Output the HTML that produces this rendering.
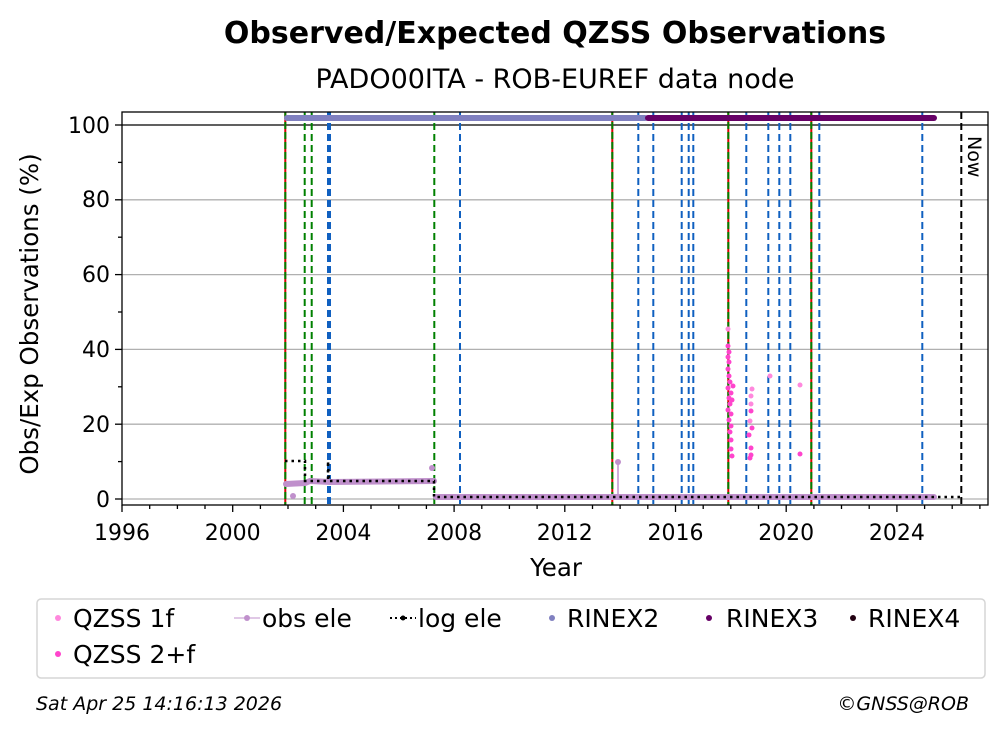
<!DOCTYPE html>
<html><head><meta charset="utf-8"><style>
body{margin:0;background:#fff;}
svg text{font-family:"DejaVu Sans","Liberation Sans",sans-serif;}
</style></head><body>
<svg width="1008" height="734" xmlns="http://www.w3.org/2000/svg">
<rect width="1008" height="734" fill="#fff"/>
<text x="555" y="43" font-size="30" font-weight="bold" text-anchor="middle">Observed/Expected QZSS Observations</text>
<text x="555" y="88" font-size="27" text-anchor="middle">PADO00ITA - ROB-EUREF data node</text>
<!-- grid -->
<g stroke="#b0b0b0" stroke-width="1.3">
<line x1="122" x2="988" y1="499" y2="499"/>
<line x1="122" x2="988" y1="424.2" y2="424.2"/>
<line x1="122" x2="988" y1="349.4" y2="349.4"/>
<line x1="122" x2="988" y1="274.6" y2="274.6"/>
<line x1="122" x2="988" y1="199.8" y2="199.8"/>
</g>
<line x1="122" x2="988" y1="125" y2="125" stroke="#000" stroke-width="1.3"/>
<!-- vertical event lines -->
<g stroke-width="2" fill="none">
<g stroke="#1060c0" stroke-dasharray="7,4">
<line x1="328" x2="328" y1="112" y2="505"/><line x1="330" x2="330" y1="112" y2="505"/>
<line x1="460" x2="460" y1="112" y2="505"/>
<line x1="638.3" x2="638.3" y1="112" y2="505"/><line x1="653.3" x2="653.3" y1="112" y2="505"/>
<line x1="681.7" x2="681.7" y1="112" y2="505"/><line x1="688.7" x2="688.7" y1="112" y2="505"/><line x1="693.3" x2="693.3" y1="112" y2="505"/>
<line x1="746.3" x2="746.3" y1="112" y2="505"/><line x1="768.3" x2="768.3" y1="112" y2="505"/><line x1="779.3" x2="779.3" y1="112" y2="505"/><line x1="790.3" x2="790.3" y1="112" y2="505"/>
<line x1="819.3" x2="819.3" y1="112" y2="505"/><line x1="922.3" x2="922.3" y1="112" y2="505"/>
</g>
<g stroke="#008000" stroke-dasharray="7,4">
<line x1="304.7" x2="304.7" y1="112" y2="505"/><line x1="311.7" x2="311.7" y1="112" y2="505"/>
<line x1="434.3" x2="434.3" y1="112" y2="505"/>
</g>
<g>
<line x1="285.3" x2="285.3" y1="112" y2="505" stroke="#d00"/><line x1="285.3" x2="285.3" y1="112" y2="505" stroke="#008000" stroke-dasharray="7,3"/>
<line x1="612.3" x2="612.3" y1="112" y2="505" stroke="#d00"/><line x1="612.3" x2="612.3" y1="112" y2="505" stroke="#008000" stroke-dasharray="7,3"/>
<line x1="728.3" x2="728.3" y1="112" y2="505" stroke="#d00"/><line x1="728.3" x2="728.3" y1="112" y2="505" stroke="#008000" stroke-dasharray="7,3"/>
<line x1="811.3" x2="811.3" y1="112" y2="505" stroke="#d00"/><line x1="811.3" x2="811.3" y1="112" y2="505" stroke="#008000" stroke-dasharray="7,3"/>
</g>
<line x1="961.3" x2="961.3" y1="112" y2="505" stroke="#000" stroke-dasharray="7,4"/>
</g>
<text transform="translate(968,136) rotate(90)" font-size="19">Now</text>
<!-- RINEX bars -->
<line x1="287" x2="645" y1="118" y2="118" stroke="#8080c0" stroke-width="6" stroke-linecap="round"/>
<line x1="648" x2="934" y1="118" y2="118" stroke="#660066" stroke-width="6" stroke-linecap="round"/>
<!-- obs ele -->
<g stroke="#c090cc" stroke-width="6" stroke-linecap="round" fill="none">
<polyline points="286,484 305,483 310,481 330,482 434,481"/>
<polyline points="436,497 934,497"/>
</g>
<line x1="618" x2="618" y1="462" y2="497" stroke="#c090cc" stroke-width="1.5"/>
<circle cx="618" cy="462" r="3" fill="#c090cc"/>
<circle cx="432" cy="468" r="3" fill="#c090cc"/>
<circle cx="293" cy="496" r="3" fill="#c090cc"/>
<!-- log ele -->
<polyline points="285,461 305,461 305,481 328,481 328,461 329,481 434,481 434,497 960,497" fill="none" stroke="#000" stroke-width="2.5" stroke-dasharray="2.5,4"/>
<!-- QZSS points -->
<g fill="#ff44cc">
<circle cx="728" cy="329" r="2.5" fill="#ff88dd"/><circle cx="728" cy="346" r="2.5"/><circle cx="729" cy="352" r="2.5"/><circle cx="728" cy="357" r="2.5"/><circle cx="729" cy="362" r="2.5"/><circle cx="728" cy="369" r="2.5"/><circle cx="729" cy="376" r="2.5"/><circle cx="730" cy="382" r="2.5"/><circle cx="728" cy="388" r="2.5"/><circle cx="731" cy="393" r="2.5"/><circle cx="729" cy="398" r="2.5"/><circle cx="730" cy="404" r="2.5"/><circle cx="728" cy="410" r="2.5"/><circle cx="731" cy="414" r="2.5"/><circle cx="729" cy="420" r="2.5"/><circle cx="731" cy="426" r="2.5"/><circle cx="730" cy="432" r="2.5"/><circle cx="731" cy="440" r="2.5"/><circle cx="731" cy="449" r="2.5"/><circle cx="732" cy="456" r="2.5"/><circle cx="733" cy="386" r="2.5"/><circle cx="732" cy="400" r="2.5"/>
<circle cx="752" cy="389" r="2.5" fill="#ff88dd"/><circle cx="751" cy="396" r="2.5" fill="#ff88dd"/><circle cx="751" cy="404" r="2.5" fill="#ff88dd"/><circle cx="751" cy="411" r="2.5"/><circle cx="750" cy="421" r="2.5" fill="#ff88dd"/><circle cx="752" cy="428" r="2.5"/><circle cx="749" cy="435" r="2.5"/><circle cx="751" cy="448" r="2.5"/><circle cx="751" cy="455" r="2.5"/><circle cx="750" cy="458" r="2.5"/>
<circle cx="770" cy="376" r="2.5" fill="#ff88dd"/><circle cx="800" cy="385" r="2.5" fill="#ff88dd"/><circle cx="800" cy="454" r="2.5"/>
</g>
<!-- axes frame -->
<rect x="122" y="112" width="866" height="393" fill="none" stroke="#000" stroke-width="1.3"/>
<!-- y ticks -->
<g stroke="#000" stroke-width="1.3">
<line x1="115" x2="122" y1="499" y2="499"/><line x1="115" x2="122" y1="424.2" y2="424.2"/><line x1="115" x2="122" y1="349.4" y2="349.4"/><line x1="115" x2="122" y1="274.6" y2="274.6"/><line x1="115" x2="122" y1="199.8" y2="199.8"/><line x1="115" x2="122" y1="125" y2="125"/>
<line x1="118" x2="122" y1="461.6" y2="461.6"/><line x1="118" x2="122" y1="386.8" y2="386.8"/><line x1="118" x2="122" y1="312" y2="312"/><line x1="118" x2="122" y1="237.2" y2="237.2"/><line x1="118" x2="122" y1="162.4" y2="162.4"/>
</g>
<g font-size="22" text-anchor="end">
<text x="110" y="507">0</text><text x="110" y="432">20</text><text x="110" y="357">40</text><text x="110" y="282">60</text><text x="110" y="207">80</text><text x="110" y="133">100</text>
</g>
<text transform="translate(38,314) rotate(-90)" font-size="24.5" text-anchor="middle">Obs/Exp Observations (%)</text>
<!-- x ticks -->
<g stroke="#000" stroke-width="1.3">
<line x1="122" x2="122" y1="505" y2="512"/><line x1="232.7" x2="232.7" y1="505" y2="512"/><line x1="343.4" x2="343.4" y1="505" y2="512"/><line x1="454.1" x2="454.1" y1="505" y2="512"/><line x1="564.8" x2="564.8" y1="505" y2="512"/><line x1="675.5" x2="675.5" y1="505" y2="512"/><line x1="786.2" x2="786.2" y1="505" y2="512"/><line x1="896.9" x2="896.9" y1="505" y2="512"/>
<path d="M149.7 505v4M177.4 505v4M205 505v4M260.4 505v4M288 505v4M315.7 505v4M371 505v4M398.8 505v4M426.4 505v4M481.8 505v4M509.4 505v4M537.1 505v4M592.5 505v4M620.1 505v4M647.8 505v4M703.2 505v4M730.8 505v4M758.5 505v4M813.9 505v4M841.5 505v4M869.2 505v4M924.6 505v4M952.2 505v4M979.9 505v4"/>
</g>
<g font-size="22" text-anchor="middle">
<text x="122" y="540">1996</text><text x="232.7" y="540">2000</text><text x="343.4" y="540">2004</text><text x="454.1" y="540">2008</text><text x="564.8" y="540">2012</text><text x="675.5" y="540">2016</text><text x="786.2" y="540">2020</text><text x="896.9" y="540">2024</text>
</g>
<text x="556" y="576" font-size="24.5" text-anchor="middle">Year</text>
<!-- legend -->
<rect x="37" y="599" width="948" height="79" rx="4" fill="#fff" stroke="#d5d5d5" stroke-width="1.5"/>
<g font-size="25">
<circle cx="58" cy="618" r="3" fill="#ff88dd"/><text x="73" y="627">QZSS 1f</text>
<circle cx="58" cy="654" r="3" fill="#ff44cc"/><text x="73" y="663">QZSS 2+f</text>
<line x1="234" x2="260" y1="618" y2="618" stroke="#c090cc" stroke-width="1"/><circle cx="247" cy="618" r="3" fill="#c090cc"/><text x="262" y="627">obs ele</text>
<line x1="390" x2="416" y1="618" y2="618" stroke="#000" stroke-width="2" stroke-dasharray="2,3"/><circle cx="403" cy="618" r="2.5" fill="#000"/><text x="418" y="627">log ele</text>
<circle cx="552" cy="618" r="3" fill="#8080c0"/><text x="567" y="627">RINEX2</text>
<circle cx="709" cy="618" r="3" fill="#660066"/><text x="726" y="627">RINEX3</text>
<circle cx="853" cy="618" r="3" fill="#220011"/><text x="868" y="627">RINEX4</text>
</g>
<text x="36" y="710" font-size="19" font-style="italic">Sat Apr 25 14:16:13 2026</text>
<text x="969" y="710" font-size="19" font-style="italic" text-anchor="end">©GNSS@ROB</text>
</svg>
</body></html>
